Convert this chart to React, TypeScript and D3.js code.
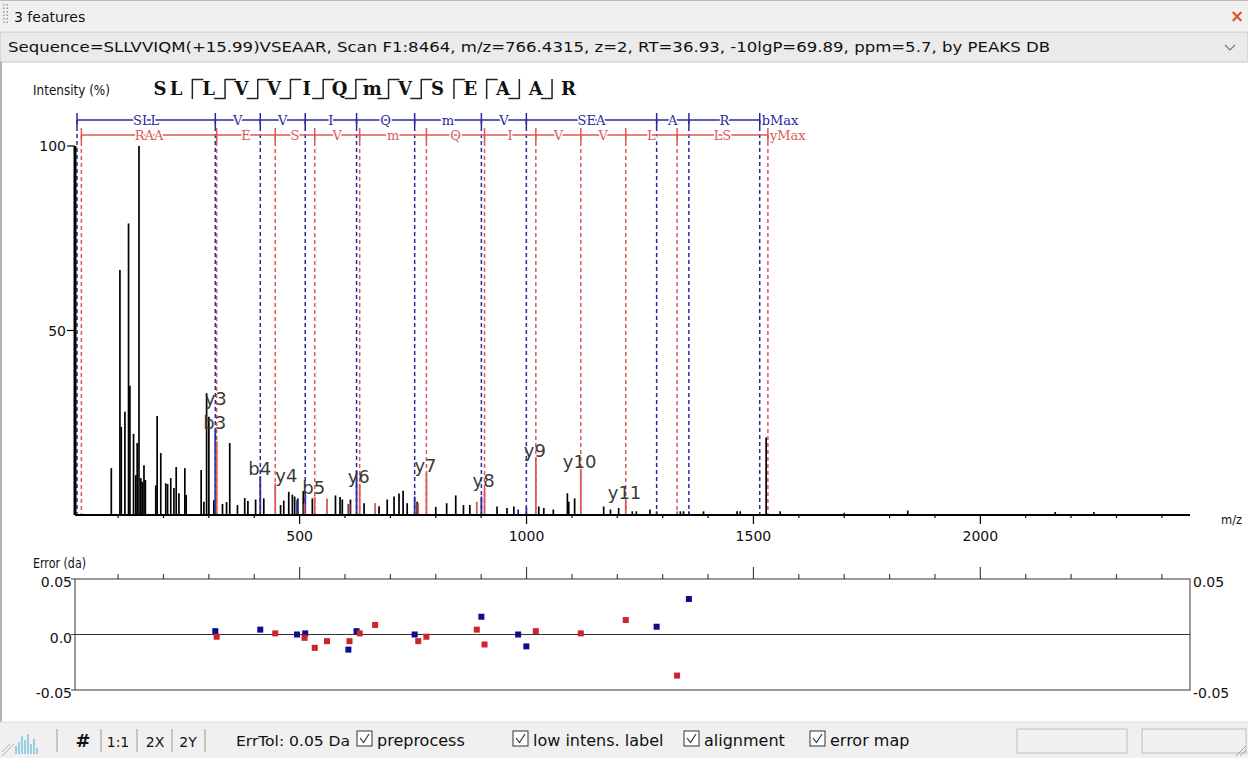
import React from "react";
import * as d3 from "d3";

// ---------------- data ----------------
const SEQUENCE = ["S", "L", "L", "V", "V", "I", "Q", "m", "V", "S", "E", "A", "A", "R"];
const RESIDUE_MASS: Record<string, number> = {
  S: 87.032, L: 113.084, V: 99.068, I: 113.084, Q: 128.059, m: 147.035, E: 129.043, A: 71.037, R: 156.101,
};
const B_LADDER = [3, 4, 5, 6, 7, 8, 9, 12, 13];
const Y_LADDER = [3, 4, 5, 6, 7, 8, 9, 10, 11, 12];

// unmatched peaks (m/z, relative intensity %)
const PEAK_MZ = [
  85, 104, 107, 115, 123, 126, 134, 139, 142, 146, 150, 153, 157, 160, 183, 186, 194, 205, 209, 216,
  223, 228, 234, 247, 250, 283, 289, 295, 300, 311, 330, 339, 346, 363, 379, 386, 403, 421, 458, 465,
  476, 484, 489, 496, 508, 528, 579, 589, 594, 612, 642, 675, 693, 708, 719, 728, 737, 759, 800, 824,
  844, 861, 875, 935, 957, 972, 1027, 1038, 1059, 1090, 1093, 1106, 1170, 1185, 1203, 1233, 1242, 1272,
  1339, 1346, 1390, 1464, 1471, 1528, 1559, 1700, 1840, 2165, 2250,
];
const PEAK_INT = [
  12.7, 66.4, 23.9, 28, 79, 35, 22, 10.8, 19.5, 100, 10, 9, 13.5, 9.5, 8, 26.8, 16.8, 8.6, 8.4, 10,
  7.3, 13, 5.9, 12.7, 5.4, 12.2, 3.6, 33, 26.6, 4, 3, 3.5, 19.5, 2.7, 4.6, 3.8, 4.2, 4.5, 2.7, 3.9,
  6.3, 5.5, 5, 4.5, 6.5, 4.5, 5.3, 4.9, 4.2, 4.2, 3.2, 2.4, 4.2, 5, 5.8, 6.6, 3.2, 3.6, 2.2, 3.2,
  5.3, 2.7, 2.7, 2.3, 1.9, 2.3, 2.3, 1.9, 1.5, 5.9, 3.6, 4.5, 2.3, 1.5, 1.9, 1, 1, 1.5,
  1, 1, 1, 1, 1, 21, 1, 0.6, 1.2, 0.8, 0.8,
];

// matched b-type ions
const B_NAMES = ["b3", "b4", "b5-H2O", "b5", "b6-H2O", "b6", "b7", "b8", "b9-H2O", "b9", "b12", "b13"];
const B_LABELS = ["b3", "b4", "", "b5", "", "", "", "", "", "", "", ""];
const B_MZ = [314.21, 413.27, 494.3, 512.34, 607.4, 625.43, 753.48, 900.52, 981.6, 999.59, 1286.7, 1357.74];
const B_INT = [23, 10.5, 4, 5.5, 3, 12, 5, 5, 1.5, 2, 1, 1];
const B_ERR = [0.003, 0.0044, 0.0, 0.001, -0.0136, 0.003, 0.0, 0.016, 0.0, -0.0107, 0.007, 0.032];

// matched y-type ions
const Y_NAMES = ["y3", "y4", "y9++", "y5", "y10++", "y11++", "y6", "y12++", "y7-H2O", "y7", "y8-NH3", "y8", "y9", "y10", "y11", "y12"];
const Y_LABELS = ["y3", "y4", "", "", "", "", "y6", "", "", "y7", "", "y8", "y9", "y10", "y11", ""];
const Y_MZ = [317.19, 446.24, 510.76, 533.27, 560.29, 609.83, 632.34, 666.37, 761.36, 779.37, 890.4, 907.43, 1020.51, 1119.58, 1218.65, 1331.73];
const Y_INT = [20, 8.6, 3, 5, 4.5, 3, 8.5, 3.2, 3.2, 11.5, 3.6, 7.3, 15.4, 12.5, 4, 1];
const Y_ERR = [-0.002, 0.001, -0.003, -0.012, -0.006, -0.006, 0.001, 0.0086, -0.006, -0.002, 0.0044, -0.009, 0.003, 0.001, 0.013, -0.037];

const X_TICKS = [500, 1000, 1500, 2000];
const Y_TICKS = [50, 100];
const ERR_TICKS = [-0.05, 0, 0.05];

const TITLE = "3 features";
const INFO =
  "Sequence=SLLVVIQM(+15.99)VSEAAR, Scan F1:8464, m/z=766.4315, z=2, RT=36.93, -10lgP=69.89, ppm=5.7, by PEAKS DB";
const TOOL_ITEMS = ["#", "1:1", "2X", "2Y"];
const CHECK_ITEMS = ["preprocess", "low intens. label", "alignment", "error map"];

// ---------------- layout ----------------
const W = 1248;
const H = 758;
const X0 = 75;
const X1 = 1190;
const x = d3.scaleLinear().domain([5, 2462]).range([X0, X1]);
const y = d3.scaleLinear().domain([0, 100]).range([515, 146]);
const ey = d3.scaleLinear().domain([-0.05, 0.05]).range([690, 579]);

const BLUE_Y = 120;
const RED_Y = 135;
const UI_FONT = "'DejaVu Sans', Verdana, sans-serif";
const SERIF = "'DejaVu Serif', 'Liberation Serif', serif";

const C_BLUE = "#2a2a9c";
const C_RED = "#d85a5a";
const C_BLUE_PT = "#0d0d8c";
const C_RED_PT = "#cc2428";

function bMass(k: number) {
  return d3.sum(SEQUENCE.slice(0, k), (r) => RESIDUE_MASS[r]) + 1.00728;
}
function yMass(k: number) {
  return d3.sum(SEQUENCE.slice(SEQUENCE.length - k), (r) => RESIDUE_MASS[r]) + 19.0178;
}

export default function App() {
  const N = SEQUENCE.length;
  const bNodes = [0, ...B_LADDER, N];
  const yNodes = [0, ...Y_LADDER, N];
  const bx = (k: number) => Math.max(x(bMass(k)), X0 + 2);
  const yx = (k: number) => Math.max(x(yMass(k)), X0 + 2);

  const bSegs = bNodes.slice(1).map((k, i) => ({
    x1: bx(bNodes[i]),
    x2: bx(k),
    label: SEQUENCE.slice(bNodes[i], k).join(""),
  }));
  const ySegs = yNodes.slice(1).map((k, i) => ({
    x1: yx(yNodes[i]),
    x2: yx(k),
    label: SEQUENCE.slice(N - k, N - yNodes[i]).reverse().join(""),
  }));

  // peak labels layout
  const ions = [
    ...B_MZ.map((mz, i) => ({ mz, int: B_INT[i], label: B_LABELS[i] })),
    ...Y_MZ.map((mz, i) => ({ mz, int: Y_INT[i], label: Y_LABELS[i] })),
  ]
    .filter((d) => d.label)
    .sort((a, b) => a.mz - b.mz);
  const placed: { left: number; w: number; base: number; px: number; label: string }[] = [];
  for (const d of ions) {
    const px = x(d.mz);
    const w = d.label.length * 12;
    let left = px - w / 2;
    let base = y(d.int) - 1;
    for (const p of placed) {
      const h = left < p.left + p.w && left + w > p.left;
      const v = base > p.base - 16 && base - 16 < p.base;
      if (h && v) {
        if (Math.abs(px - p.px) < 8) base = p.base - 24;
        else left = p.left + p.w + 3;
      }
    }
    placed.push({ left, w, base, px, label: d.label });
  }

  // sequence header
  const headerLetters: { ch: string; cx: number }[] = [];
  const brackets: { mx: number; top: boolean; bottom: boolean }[] = [];
  let cx = 160;
  SEQUENCE.forEach((ch, i) => {
    if (i > 0) {
      const top = Y_LADDER.includes(N - i);
      const bottom = B_LADDER.includes(i);
      const adv = top || bottom ? 32.7 : 16;
      if (top || bottom) brackets.push({ mx: cx + adv / 2, top, bottom });
      cx += adv;
    }
    headerLetters.push({ ch, cx });
  });

  const minorTicks = d3.range(100, 2500, 100);

  const toolX = [83, 118, 155, 188];
  const sepX = [57, 101, 137, 172, 205];
  const checkX = [357, 513, 684, 810];

  return (
    <div style={{ position: "fixed", left: 0, top: 0, width: W, height: H, background: "#fff" }}>
      <svg width={W} height={H} style={{ display: "block" }}>
        <rect x={0} y={0} width={W} height={H} fill="#ffffff" />
        {/* title bar */}
        <rect x={0} y={0} width={W} height={31} fill="#f0f0f0" />
        <line x1={0} y1={0.5} x2={W} y2={0.5} stroke="#b9b9b9" />
        {d3.range(0, 6).map((i) => (
          <g key={"grip" + i}>
            <rect x={3} y={4 + i * 3.5} width={1.5} height={1.5} fill="#9a9a9a" />
            <rect x={6.5} y={4 + i * 3.5} width={1.5} height={1.5} fill="#9a9a9a" />
          </g>
        ))}
        <text x={14} y={22} fontFamily={UI_FONT} fontSize={14} fill="#111">
          {TITLE}
        </text>
        <text x={1237} y={22} fontFamily={UI_FONT} fontSize={17} fontWeight="bold" fill="#e0521d" textAnchor="middle">
          ×
        </text>
        {/* info bar */}
        <rect x={0} y={32} width={W} height={30} fill="#ebebeb" stroke="#c6c6c6" />
        <text x={8} y={52} fontFamily={UI_FONT} fontSize={14} fill="#111" textLength={1042} lengthAdjust="spacingAndGlyphs">
          {INFO}
        </text>
        <path d="M1225,45 L1230,50 L1235,45" fill="none" stroke="#777" strokeWidth={1.2} />
        <line x1={1} y1={62} x2={1} y2={722} stroke="#9a9a9a" strokeWidth={1.5} />

        {/* intensity label and sequence header */}
        <text x={33} y={95} fontFamily={UI_FONT} fontSize={14} fill="#111" textLength={77} lengthAdjust="spacingAndGlyphs">
          Intensity (%)
        </text>
        {headerLetters.map((d, i) => (
          <text key={"hl" + i} x={d.cx} y={95} fontFamily={SERIF} fontWeight="bold" fontSize={18} fill="#111" textAnchor="middle">
            {d.ch}
          </text>
        ))}
        {brackets.map((b, i) => (
          <g key={"br" + i} stroke="#222" strokeWidth={1.5} fill="none">
            <line x1={b.mx} y1={79} x2={b.mx} y2={99} />
            {b.top && <line x1={b.mx} y1={79.5} x2={b.mx + 11} y2={79.5} />}
            {b.bottom && <line x1={b.mx} y1={98.5} x2={b.mx - 11} y2={98.5} />}
          </g>
        ))}

        {/* dashed fragment lines */}
        {bNodes.map((k, i) => (
          <line key={"bd" + i} x1={bx(k)} x2={bx(k)} y1={BLUE_Y} y2={515} stroke={C_BLUE} strokeWidth={1.5} strokeDasharray="4,3" />
        ))}
        {yNodes.map((k, i) => (
          <line key={"yd" + i} x1={yx(k)} x2={yx(k)} y1={RED_Y} y2={515} stroke={C_RED} strokeWidth={1.5} strokeDasharray="4,3" />
        ))}

        {/* ladders */}
        {bSegs.map((s, i) => (
          <g key={"bs" + i}>
            <line x1={s.x1} x2={s.x2} y1={BLUE_Y} y2={BLUE_Y} stroke={C_BLUE} strokeWidth={1.3} />
            <text
              x={(s.x1 + s.x2) / 2}
              y={BLUE_Y + 4.5}
              textAnchor="middle"
              fontFamily={SERIF}
              fontSize={13}
              fill={C_BLUE}
              stroke="#fff"
              strokeWidth={3}
              paintOrder="stroke"
            >
              {s.label}
            </text>
          </g>
        ))}
        {bNodes.map((k, i) => (
          <line key={"bt" + i} x1={bx(k)} x2={bx(k)} y1={BLUE_Y - 7} y2={BLUE_Y + 7} stroke={C_BLUE} strokeWidth={1.5} />
        ))}
        <text x={bx(N) + 2} y={BLUE_Y + 4.5} fontFamily={SERIF} fontSize={13} fill={C_BLUE}>
          bMax
        </text>
        {ySegs.map((s, i) => (
          <g key={"ys" + i}>
            <line x1={s.x1} x2={s.x2} y1={RED_Y} y2={RED_Y} stroke={C_RED} strokeWidth={1.3} />
            <text
              x={(s.x1 + s.x2) / 2}
              y={RED_Y + 4.5}
              textAnchor="middle"
              fontFamily={SERIF}
              fontSize={13}
              fill={C_RED}
              stroke="#fff"
              strokeWidth={3}
              paintOrder="stroke"
            >
              {s.label}
            </text>
          </g>
        ))}
        {yNodes.map((k, i) => (
          <line key={"yt" + i} x1={yx(k)} x2={yx(k)} y1={RED_Y - 7} y2={RED_Y + 7} stroke={C_RED} strokeWidth={1.5} />
        ))}
        <text x={yx(N) + 2} y={RED_Y + 4.5} fontFamily={SERIF} fontSize={13} fill={C_RED}>
          yMax
        </text>

        {/* peaks */}
        {PEAK_MZ.map((mz, i) => (
          <line key={"pk" + i} x1={x(mz)} x2={x(mz)} y1={y(0)} y2={y(PEAK_INT[i])} stroke="#000" strokeWidth={1.7} />
        ))}
        {B_MZ.map((mz, i) => (
          <line key={"bp" + i} x1={x(mz)} x2={x(mz)} y1={y(0)} y2={y(B_INT[i])} stroke={C_BLUE} strokeWidth={1.8} />
        ))}
        {Y_MZ.map((mz, i) => (
          <line key={"yp" + i} x1={x(mz)} x2={x(mz)} y1={y(0)} y2={y(Y_INT[i])} stroke={C_RED} strokeWidth={1.8} />
        ))}
        {placed.map((p, i) => (
          <text key={"lb" + i} x={p.left} y={p.base} fontFamily={UI_FONT} fontSize={18} fill="#3a3a3a">
            {p.label}
          </text>
        ))}

        {/* main axes */}
        <line x1={X0} x2={X0} y1={y(0)} y2={y(100)} stroke="#000" strokeWidth={3} />
        {Y_TICKS.map((t) => (
          <g key={"ytk" + t}>
            <line x1={X0 - 8} x2={X0} y1={y(t)} y2={y(t)} stroke="#000" strokeWidth={1.2} />
            <text x={X0 - 9} y={y(t) + 5} textAnchor="end" fontFamily={UI_FONT} fontSize={14} fill="#111">
              {t}
            </text>
          </g>
        ))}
        <line x1={X0} x2={X1} y1={515} y2={515} stroke="#000" strokeWidth={2.2} />
        {minorTicks.map((t) => (
          <line key={"mx" + t} x1={x(t)} x2={x(t)} y1={515} y2={X_TICKS.includes(t) ? 524 : 518} stroke="#000" strokeWidth={1.2} />
        ))}
        {X_TICKS.map((t) => (
          <text key={"xl" + t} x={x(t)} y={541} textAnchor="middle" fontFamily={UI_FONT} fontSize={14} fill="#111">
            {t}
          </text>
        ))}
        <text x={1221} y={524} fontFamily={UI_FONT} fontSize={13} fill="#111" textLength={21} lengthAdjust="spacingAndGlyphs">
          m/z
        </text>

        {/* error plot */}
        <text x={33} y={568} fontFamily={UI_FONT} fontSize={14} fill="#111" textLength={53} lengthAdjust="spacingAndGlyphs">
          Error (da)
        </text>
        <rect x={X0} y={ey(0.05)} width={X1 - X0} height={ey(-0.05) - ey(0.05)} fill="#fff" stroke="#555" strokeWidth={1.2} />
        <line x1={X0} x2={X1} y1={ey(0)} y2={ey(0)} stroke="#333" strokeWidth={1.2} />
        {minorTicks.map((t) => (
          <line key={"et" + t} x1={x(t)} x2={x(t)} y1={ey(0.05)} y2={ey(0.05) - (X_TICKS.includes(t) ? 12 : 5)} stroke="#444" strokeWidth={1.2} />
        ))}
        {ERR_TICKS.map((t) => (
          <g key={"el" + t}>
            <line x1={X0 - 4} x2={X0} y1={ey(t)} y2={ey(t)} stroke="#444" />
            <text x={X0 - 3} y={ey(t) + 8} textAnchor="end" fontFamily={UI_FONT} fontSize={14} fill="#111">
              {t === 0 ? "0.0" : t.toFixed(2)}
            </text>
            {t !== 0 && (
              <text x={X1 + 3} y={ey(t) + 8} fontFamily={UI_FONT} fontSize={14} fill="#111">
                {t.toFixed(2)}
              </text>
            )}
          </g>
        ))}
        {B_MZ.map((mz, i) => (
          <rect key={"be" + i} x={x(mz) - 3} y={ey(B_ERR[i]) - 3} width={6} height={6} fill={C_BLUE_PT} />
        ))}
        {Y_MZ.map((mz, i) => (
          <rect key={"ye" + i} x={x(mz) - 3} y={ey(Y_ERR[i]) - 3} width={6} height={6} fill={C_RED_PT} />
        ))}

        {/* toolbar */}
        <rect x={0} y={722} width={W} height={36} fill="#f0f0f0" />
        <line x1={0} y1={722} x2={W} y2={722} stroke="#dadada" />
        <g stroke="#5fb8d8" strokeWidth={1.2}>
          {[
            [16, 8], [19, 12], [22, 18], [25, 14], [28, 20], [31, 10], [34, 15], [37, 6],
          ].map(([px, h], i) => (
            <line key={"ic" + i} x1={px} x2={px} y1={754} y2={754 - h} />
          ))}
        </g>
        <g stroke="#b0b0b0" strokeWidth={1}>
          <line x1={2} y1={752} x2={10} y2={744} />
          <line x1={2} y1={756} x2={14} y2={744} />
        </g>
        {sepX.map((sx) => (
          <line key={"sep" + sx} x1={sx} x2={sx} y1={729} y2={752} stroke="#9a9a9a" />
        ))}
        {TOOL_ITEMS.map((t, i) => (
          <text
            key={"ti" + t}
            x={toolX[i]}
            y={747}
            textAnchor="middle"
            fontFamily={UI_FONT}
            fontSize={t === "#" ? 18 : 14}
            fontWeight={t === "#" ? "bold" : "normal"}
            fill="#111"
          >
            {t}
          </text>
        ))}
        <text x={236} y={746} fontFamily={UI_FONT} fontSize={14} fill="#111" textLength={114} lengthAdjust="spacingAndGlyphs">
          ErrTol: 0.05 Da
        </text>
        {CHECK_ITEMS.map((t, i) => (
          <g key={"ck" + t}>
            <rect x={checkX[i]} y={731} width={15} height={15} fill="#fff" stroke="#333" strokeWidth={1} />
            <path
              d={`M${checkX[i] + 3},${738} L${checkX[i] + 6.5},${742.5} L${checkX[i] + 12},${734}`}
              fill="none"
              stroke="#333"
              strokeWidth={1.2}
            />
            <text x={checkX[i] + 20} y={746} fontFamily={UI_FONT} fontSize={16} fill="#111">
              {t}
            </text>
          </g>
        ))}
        <rect x={1017} y={729} width={110} height={24} fill="#f0f0f0" stroke="#bdbdbd" />
        <rect x={1142} y={729} width={104} height={24} fill="#f0f0f0" stroke="#bdbdbd" />
        <g stroke="#a0a0a0" strokeWidth={1}>
          <line x1={1236} y1={756} x2={1246} y2={746} />
          <line x1={1240} y1={756} x2={1246} y2={750} />
        </g>
      </svg>
    </div>
  );
}
